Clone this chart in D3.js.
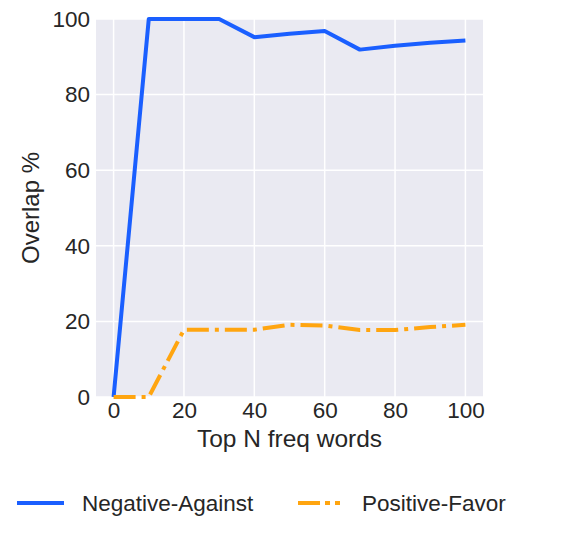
<!DOCTYPE html>
<html>
<head>
<meta charset="utf-8">
<script src="https://cdn.jsdelivr.net/npm/d3@7/dist/d3.min.js"></script>
<style>
  body { margin: 0; background: #fff; }
  text { font-family: "Liberation Sans", Arial, sans-serif; fill: #262626; }
</style>
</head>
<body>
<svg id="chart" width="580" height="538"></svg>
<script>
// data
const topN = [0, 10, 20, 30, 40, 50, 60, 70, 80, 90, 100];
const negativeAgainst = [0, 100, 100, 100, 95.2, 96.1, 96.8, 91.9, 92.9, 93.7, 94.3];
const positiveFavor = [0, 0, 17.8, 17.8, 17.8, 19.1, 18.9, 17.7, 17.7, 18.5, 19.1];
const xTicks = [0, 20, 40, 60, 80, 100];
const yTicks = [0, 20, 40, 60, 80, 100];

const series = [
  { name: 'Negative-Against', values: negativeAgainst, color: '#1a5fff', dash: null, legendDash: null },
  { name: 'Positive-Favor', values: positiveFavor, color: '#ffa510', dash: '22,6,4,6', legendDash: '22,5,5,5,5,5' }
];

const margin = { left: 96, right: 97, top: 19, bottom: 141 };
const width = 580 - margin.left - margin.right;
const height = 538 - margin.top - margin.bottom;

const svg = d3.select('#chart');
const g = svg.append('g').attr('transform', `translate(${margin.left},${margin.top})`);

const x = d3.scaleLinear().domain([-5, 105]).range([0, width]);
const y = d3.scaleLinear().domain([0, 100]).range([height, 0]);

// plot background
g.append('rect')
  .attr('width', width)
  .attr('height', height)
  .attr('fill', '#eaeaf2');

// grid
g.selectAll('.xgrid').data(xTicks).enter().append('line')
  .attr('x1', d => x(d)).attr('x2', d => x(d))
  .attr('y1', 0).attr('y2', height)
  .attr('stroke', '#fff').attr('stroke-width', 1.5);
g.selectAll('.ygrid').data(yTicks).enter().append('line')
  .attr('x1', 0).attr('x2', width)
  .attr('y1', d => y(d)).attr('y2', d => y(d))
  .attr('stroke', '#fff').attr('stroke-width', 1.5);

// axes (labels only)
const xAxis = g.append('g')
  .attr('transform', `translate(0,${height})`)
  .call(d3.axisBottom(x).tickValues(xTicks).tickSize(0).tickPadding(5));
const yAxis = g.append('g')
  .call(d3.axisLeft(y).tickValues(yTicks).tickSize(0).tickPadding(6));
[xAxis, yAxis].forEach(a => {
  a.select('.domain').remove();
  a.selectAll('text')
    .attr('font-size', '22.5px')
    .attr('font-family', '"Liberation Sans", Arial, sans-serif')
    .attr('fill', '#262626');
});

// lines
const line = d3.line()
  .x((d, i) => x(topN[i]))
  .y(d => y(d));

for (const s of series) {
  g.append('path')
    .datum(s.values)
    .attr('d', line)
    .attr('fill', 'none')
    .attr('stroke', s.color)
    .attr('stroke-width', 4)
    .attr('stroke-dasharray', s.dash)
    .attr('stroke-linejoin', 'round');
}

// axis titles
svg.append('text')
  .attr('x', margin.left + width / 2)
  .attr('y', 447)
  .attr('text-anchor', 'middle')
  .attr('font-size', '24.5px')
  .text('Top N freq words');

svg.append('text')
  .attr('transform', `translate(39,${margin.top + height / 2}) rotate(-90)`)
  .attr('text-anchor', 'middle')
  .attr('font-size', '24px')
  .text('Overlap %');

// legend
const legendPos = [{ x1: 17, x2: 64, tx: 82 }, { x1: 298, x2: 343, tx: 362 }];
series.forEach((s, i) => {
  const p = legendPos[i];
  const lg = svg.append('g');
  lg.append('line')
    .attr('x1', p.x1).attr('x2', p.x2)
    .attr('y1', 503).attr('y2', 503)
    .attr('stroke', s.color)
    .attr('stroke-width', 4)
    .attr('stroke-dasharray', s.legendDash);
  lg.append('text')
    .attr('x', p.tx)
    .attr('y', 511)
    .attr('font-size', '22.5px')
    .text(s.name);
});
</script>
</body>
</html>
